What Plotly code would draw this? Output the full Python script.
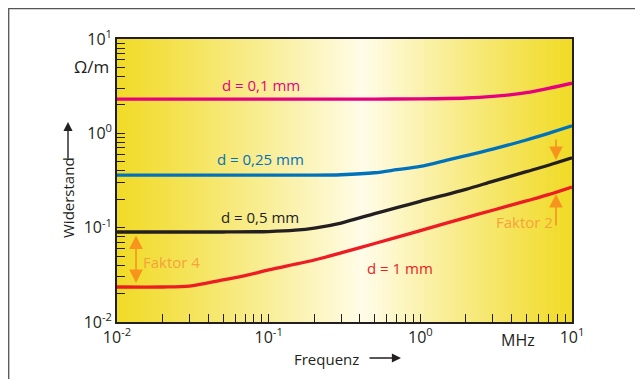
import plotly.graph_objects as go
import numpy as np

# ---- data ----
freq_pink = [0.01, 0.1, 0.5, 1, 2, 3, 4, 5, 7, 10]
r_pink = [2.31, 2.31, 2.31, 2.32, 2.37, 2.46, 2.57, 2.7, 3.0, 3.4]

freq_blue = [0.01, 0.1, 0.2, 0.3, 0.5, 0.7, 1, 1.5, 2, 3, 5, 7, 10]
r_blue = [0.36, 0.36, 0.36, 0.364, 0.382, 0.412, 0.447, 0.52, 0.58, 0.68, 0.85, 1.0, 1.2]

freq_black = [0.01, 0.05, 0.1, 0.15, 0.2, 0.3, 0.5, 0.7, 1, 2, 3, 5, 7, 10]
r_black = [0.09, 0.09, 0.091, 0.094, 0.099, 0.112, 0.141, 0.163, 0.19, 0.255, 0.309, 0.392, 0.459, 0.55]

freq_red = [0.01, 0.02, 0.03, 0.05, 0.07, 0.1, 0.2, 0.3, 0.5, 1, 2, 3, 5, 7, 10]
r_red = [0.0235, 0.0235, 0.024, 0.028, 0.031, 0.0356, 0.0454, 0.054, 0.068, 0.093, 0.128, 0.153, 0.192, 0.224, 0.27]

series_names = ["d = 0,1 mm", "d = 0,25 mm", "d = 0,5 mm", "d = 1 mm"]
series_colors = ["#e6007e", "#0072bc", "#231f20", "#ed1c24"]

tick_vals = [0.01, 0.1, 1, 10]
tick_text = ["10<sup>-2</sup>", "10<sup>-1</sup>", "10<sup>0</sup>", "10<sup>1</sup>"]

FONT = "Open Sans"
ORANGE = "#f7941d"
ORANGE_TXT = "#f5a23c"
DARK = "#231f20"

# page body has an 8px margin: compensate
OFF = 8
L, R, T, B = 117, 572, 39, 322   # plot area in screen pixels
PW, PH = R - L, B - T

def px2p(px):
    return (px - L) / PW

def py2p(py):
    return (B - py) / PH

fig = go.Figure()

for fx, ry, name, col in zip([freq_pink, freq_blue, freq_black, freq_red],
                             [r_pink, r_blue, r_black, r_red],
                             series_names, series_colors):
    fig.add_trace(go.Scatter(x=fx, y=ry, mode="lines", name=name,
                             line=dict(color=col, width=3.3, shape="spline", smoothing=0.8),
                             showlegend=False, hoverinfo="skip"))

# ---- background gradient (yellow - pale - yellow) ----
shapes = []
N = 120
peak = 0.54
c_edge = np.array([241, 219, 40])
c_mid = np.array([255, 252, 232])
for i in range(N):
    p0 = i / N
    p1 = (i + 1) / N
    pc = (p0 + p1) / 2
    if pc < peak:
        t = pc / peak
    else:
        t = (1 - pc) / (1 - peak)
    t = t ** 1.1
    c = c_edge + (c_mid - c_edge) * t
    shapes.append(dict(type="rect", xref="x domain", yref="y domain",
                       x0=p0, x1=p1 + 0.002, y0=0, y1=1, layer="below",
                       line=dict(width=0),
                       fillcolor="rgb(%d,%d,%d)" % tuple(c.round().astype(int))))

# outer frame
shapes.append(dict(type="rect", xref="paper", yref="paper",
                   x0=px2p(8.7), x1=px2p(637),
                   y0=py2p(400), y1=py2p(8.7),
                   line=dict(color="#555555", width=1.3), layer="below"))

fig.update_layout(shapes=shapes)

ann = []

def text_ann(px, py, text, size, color, angle=0, xanchor="center"):
    return dict(xref="paper", yref="paper", x=px2p(px), y=py2p(py), text=text,
                showarrow=False, textangle=angle, xanchor=xanchor, yanchor="middle",
                font=dict(family=FONT, size=size, color=color))

# curve labels
label_pos = [(261, 85), (260, 159), (260, 217), (400, 268)]
for (px, py), name, col in zip(label_pos, series_names, series_colors):
    ann.append(text_ann(px, py, name, 15, col))

def lx(px):
    return -2 + (px - L) / (PW / 3)

def ly(py):
    return 1 - (py - T) / (PH / 3)

# Faktor 4 arrow (double headed)
ann.append(dict(x=lx(136), y=ly(283), xref="x", yref="y", ax=0, ay=-49,
                showarrow=True, arrowhead=2, startarrowhead=2, arrowside="end+start",
                arrowsize=1.7, startarrowsize=1.7, arrowwidth=1.6, arrowcolor=ORANGE, text=""))
ann.append(text_ann(171, 262, "Faktor 4", 15, ORANGE_TXT))
# Faktor 2 arrows
ann.append(dict(x=lx(556), y=ly(160), xref="x", yref="y", ax=0, ay=-22,
                showarrow=True, arrowhead=2, arrowsize=1.7, arrowwidth=1.6, arrowcolor=ORANGE, text=""))
ann.append(dict(x=lx(556), y=ly(194), xref="x", yref="y", ax=0, ay=33,
                showarrow=True, arrowhead=2, arrowsize=1.7, arrowwidth=1.6, arrowcolor=ORANGE, text=""))
ann.append(text_ann(524, 222, "Faktor 2", 15, ORANGE_TXT))

# axis titles
ann.append(text_ann(111, 66, "Ω/m", 17, DARK, xanchor="right"))
ann.append(text_ann(518, 340, "MHz", 16, DARK))
ann.append(text_ann(326, 359, "Frequenz", 15, DARK))
ann.append(dict(xref="paper", yref="paper", x=px2p(401), y=py2p(358),
                ax=-33, ay=0, text="", showarrow=True, arrowhead=2, arrowsize=1.3,
                arrowwidth=1.4, arrowcolor=DARK))
ann.append(text_ann(68, 198, "Widerstand", 15, DARK, angle=-90))
ann.append(dict(xref="paper", yref="paper", x=px2p(68), y=py2p(122),
                ax=0, ay=38, text="", showarrow=True, arrowhead=2, arrowsize=1.3,
                arrowwidth=1.4, arrowcolor=DARK))

fig.update_layout(annotations=ann)

axis_common = dict(type="log", showgrid=False, zeroline=False,
                   showline=True, linecolor=DARK, linewidth=1.6, mirror=True,
                   ticks="inside", ticklen=8, tickwidth=1.3, tickcolor=DARK,
                   tickvals=tick_vals, ticktext=tick_text,
                   tickfont=dict(family=FONT, size=16, color=DARK),
                   minor=dict(ticks="inside", ticklen=8, tickwidth=1.3, tickcolor=DARK,
                              dtick="D1", showgrid=False))

fig.update_xaxes(range=[-2, 1], **axis_common)
fig.update_yaxes(range=[-2, 1], **axis_common)

fig.update_layout(width=643 - OFF, height=379 - OFF,
                  margin=dict(l=L - OFF, r=643 - R, t=T - OFF, b=379 - B),
                  paper_bgcolor="white", plot_bgcolor="white",
                  showlegend=False)

fig.write_html("out.html")
